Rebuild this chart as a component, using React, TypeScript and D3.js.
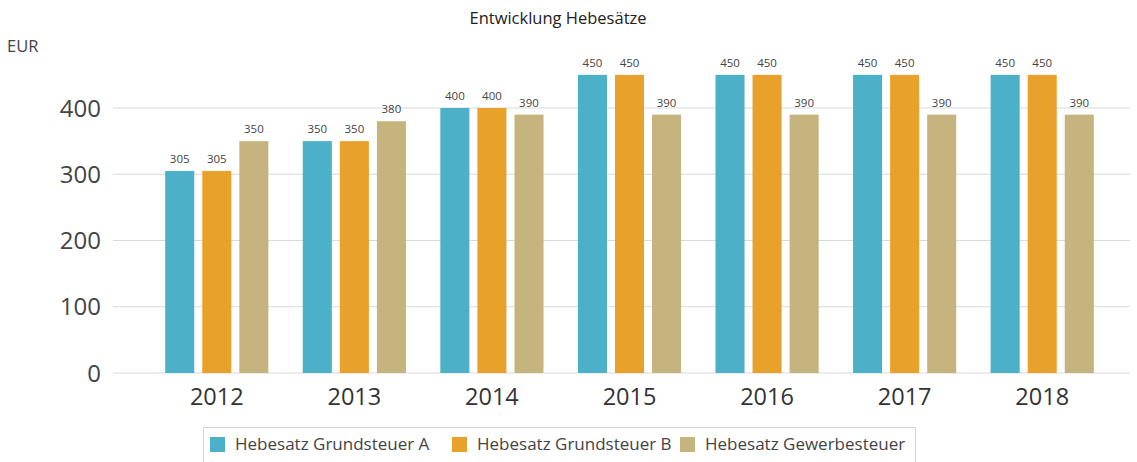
import { useRef, useEffect } from 'react';
import * as d3 from 'd3';

const years = ['2012', '2013', '2014', '2015', '2016', '2017', '2018'];
const grundsteuerA = [305, 350, 400, 450, 450, 450, 450];
const grundsteuerB = [305, 350, 400, 450, 450, 450, 450];
const gewerbesteuer = [350, 380, 390, 390, 390, 390, 390];
const seriesNames = ['Hebesatz Grundsteuer A', 'Hebesatz Grundsteuer B', 'Hebesatz Gewerbesteuer'];
const colors = ['#4bb0c8', '#e8a12a', '#c6b47e'];
const yTicks = [0, 100, 200, 300, 400];

const width = 1137;
const height = 462;
const font = "'Open Sans', 'Noto Sans', sans-serif";

const App = () => {
  const ref = useRef(null);

  useEffect(() => {
    const root = d3.select(ref.current);
    root.selectAll('*').remove();
    // svg pinned to the page corner, body margin ignored
    const svg = root
      .append('svg')
      .attr('width', width)
      .attr('height', height)
      .style('position', 'absolute')
      .style('left', '0px')
      .style('top', '0px')
      .style('font-family', font);

    const values = [grundsteuerA, grundsteuerB, gewerbesteuer];

    const x = d3.scaleBand().domain(years).range([148, 1111]).paddingInner(0.25).paddingOuter(0.125);
    const xInner = d3.scaleBand().domain(d3.range(3).map(String)).range([0, x.bandwidth()]).paddingInner(0.216);
    const y = d3.scaleLinear().domain([0, 400]).range([373, 108]);

    // title
    svg
      .append('text')
      .attr('x', 558)
      .attr('y', 24)
      .attr('text-anchor', 'middle')
      .style('font-size', '16.5px')
      .style('fill', '#222')
      .text('Entwicklung Hebesätze');

    svg
      .append('text')
      .attr('x', 7)
      .attr('y', 52)
      .style('font-size', '16.5px')
      .style('fill', '#444')
      .text('EUR');

    // grid
    const grid = svg.append('g');
    grid
      .selectAll('line')
      .data(yTicks)
      .enter()
      .append('line')
      .attr('x1', 113)
      .attr('x2', 1130)
      .attr('y1', d => y(d))
      .attr('y2', d => y(d))
      .attr('stroke', '#d9d9d9')
      .attr('stroke-width', 1);

    grid
      .selectAll('text')
      .data(yTicks)
      .enter()
      .append('text')
      .attr('x', 101)
      .attr('y', d => y(d) + 8.5)
      .attr('text-anchor', 'end')
      .style('font-size', '24px')
      .style('fill', '#444')
      .text(d => d);

    // bars
    const groups = svg
      .selectAll('g.year')
      .data(years)
      .enter()
      .append('g')
      .attr('class', 'year')
      .attr('transform', d => 'translate(' + x(d) + ',0)');

    groups.each(function (yr, i) {
      const g = d3.select(this);
      values.forEach((vals, s) => {
        const bx = xInner(String(s));
        g.append('rect')
          .attr('x', bx)
          .attr('y', y(vals[i]))
          .attr('width', xInner.bandwidth())
          .attr('height', y(0) - y(vals[i]))
          .attr('fill', colors[s]);
        g.append('text')
          .attr('x', bx + xInner.bandwidth() / 2)
          .attr('y', y(vals[i]) - 8)
          .attr('text-anchor', 'middle')
          .style('font-size', '11.5px')
          .style('fill', '#444')
          .text(vals[i]);
      });
    });

    // x labels
    svg
      .selectAll('text.xlab')
      .data(years)
      .enter()
      .append('text')
      .attr('class', 'xlab')
      .attr('x', d => x(d) + x.bandwidth() / 2)
      .attr('y', 405)
      .attr('text-anchor', 'middle')
      .style('font-size', '23.5px')
      .style('fill', '#333')
      .text(d => d);

    // legend
    const legend = svg.append('g');
    legend
      .append('rect')
      .attr('x', 203.5)
      .attr('y', 427.5)
      .attr('width', 712)
      .attr('height', 40)
      .attr('fill', 'none')
      .attr('stroke', '#d6d6d6');

    const legendX = [210, 452, 680];
    seriesNames.forEach((name, i) => {
      legend
        .append('rect')
        .attr('x', legendX[i])
        .attr('y', 437)
        .attr('width', 15)
        .attr('height', 15)
        .attr('fill', colors[i]);
      legend
        .append('text')
        .attr('x', legendX[i] + 25)
        .attr('y', 450)
        .style('font-size', '17px')
        .style('fill', '#444')
        .text(name);
    });
  }, []);

  return <div ref={ref} />;
};

export default App;
